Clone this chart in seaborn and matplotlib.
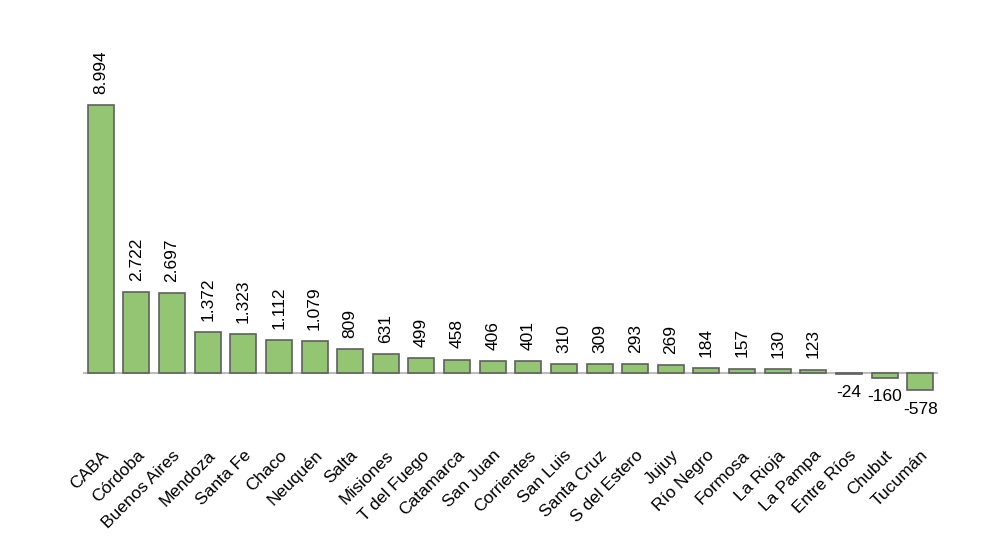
import matplotlib.pyplot as plt
import seaborn as sns
import pandas as pd

provincias = ['CABA', 'Córdoba', 'Buenos Aires', 'Mendoza', 'Santa Fe', 'Chaco',
              'Neuquén', 'Salta', 'Misiones', 'T del Fuego', 'Catamarca', 'San Juan',
              'Corrientes', 'San Luis', 'Santa Cruz', 'S del Estero', 'Jujuy',
              'Río Negro', 'Formosa', 'La Rioja', 'La Pampa', 'Entre Ríos',
              'Chubut', 'Tucumán']
valores = [8994, 2722, 2697, 1372, 1323, 1112, 1079, 809, 631, 499, 458, 406,
           401, 310, 309, 293, 269, 184, 157, 130, 123, -24, -160, -578]
etiquetas = ['8.994', '2.722', '2.697', '1.372', '1.323', '1.112', '1.079', '809',
             '631', '499', '458', '406', '401', '310', '309', '293', '269', '184',
             '157', '130', '123', '-24', '-160', '-578']

df = pd.DataFrame({'provincia': provincias, 'valor': valores})

sns.set_style('white')
plt.rcParams['font.family'] = ['Liberation Sans', 'DejaVu Sans']
plt.rcParams['text.color'] = 'black'
plt.rcParams['xtick.color'] = 'black'

fig = plt.figure(figsize=(10, 5.54), dpi=100)
ax = fig.add_axes([0.083, 0.197, 0.855, 0.695])

sns.barplot(data=df, x='provincia', y='valor', color='#93c572',
            edgecolor='#606060', linewidth=1.2, width=0.73, saturation=1, ax=ax)

ax.axhline(0, color='#bdbdbd', lw=1.5, zorder=0)
ax.set_xlim(-0.5, len(provincias) - 0.5)
ax.set_ylim(-2400, 10500)

# etiquetas de valores
for i, (v, t) in enumerate(zip(valores, etiquetas)):
    if v >= 0:
        ax.annotate(t, (i, v), xytext=(0, 8), textcoords='offset points',
                    rotation=90, ha='center', va='bottom', fontsize=12.5)
    else:
        ax.annotate(t, (i, v), xytext=(0, -8), textcoords='offset points',
                    ha='center', va='top', fontsize=12.5)

ax.set_xticks(range(len(provincias)))
ax.set_xticklabels(provincias, rotation=45, ha='right', va='top',
                   rotation_mode='anchor', fontsize=12.5)
ax.tick_params(axis='x', length=0, pad=2)
ax.set_yticks([])
ax.set_xlabel('')
ax.set_ylabel('')
sns.despine(ax=ax, left=True, bottom=True)

fig.savefig('out.png', dpi=100)
